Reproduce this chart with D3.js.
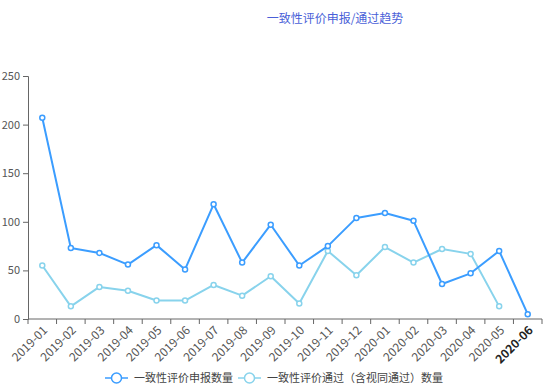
<!DOCTYPE html>
<html>
<head>
<meta charset="utf-8">
<script src="https://cdn.jsdelivr.net/npm/d3@7"></script>
<style>
  html, body { margin: 0; padding: 0; background: #fff; }
  svg { display: block; font-family: "Noto Sans CJK SC", "Noto Sans", sans-serif; }
</style>
</head>
<body>
<svg id="chart" width="553" height="385"></svg>
<script>
// Monthly consistency-evaluation figures
const months = ["2019-01","2019-02","2019-03","2019-04","2019-05","2019-06","2019-07","2019-08","2019-09","2019-10","2019-11","2019-12","2020-01","2020-02","2020-03","2020-04","2020-05","2020-06"];
const applied = [207, 73, 68, 56, 76, 51, 118, 58, 97, 55, 75, 104, 109, 101, 36, 47, 70, 5];
const approved = [55, 13, 33, 29, 19, 19, 35, 24, 44, 16, 70, 45, 74, 58, 72, 67, 13, null];
const yTicks = [0, 50, 100, 150, 200, 250];
const titleText = "一致性评价申报/通过趋势";
const seriesNames = ["一致性评价申报数量", "一致性评价通过（含视同通过）数量"];
const colors = ["#3b9dff", "#88d3ec"];

const svg = d3.select("#chart");
const margin = { left: 28, right: 11, top: 76, bottom: 66 };
const W = 553, H = 385;

const x = d3.scaleBand().domain(months).range([margin.left, W - margin.right]);
const y = d3.scaleLinear().domain([0, 250]).range([H - margin.bottom, margin.top]);

// title
svg.append("text")
  .attr("x", 335).attr("y", 23)
  .attr("text-anchor", "middle")
  .attr("font-size", 12)
  .attr("fill", "#4a5fd8")
  .text(titleText);

// y axis
const yAxis = svg.append("g")
  .attr("transform", `translate(${margin.left},0)`)
  .call(d3.axisLeft(y).tickValues(yTicks).tickSize(5).tickPadding(3));
yAxis.select(".domain").attr("stroke", "#666");
yAxis.selectAll(".tick line").attr("stroke", "#666");
yAxis.selectAll(".tick text").attr("fill", "#555").attr("font-size", 11)
  .attr("font-family", "'Noto Sans CJK SC', sans-serif");

// x axis with ticks on band boundaries
const xAxisG = svg.append("g").attr("transform", `translate(0,${y(0)})`);
xAxisG.append("line")
  .attr("x1", x.range()[0]).attr("x2", x.range()[1])
  .attr("stroke", "#666");
xAxisG.selectAll("line.tk")
  .data(months.concat(["end"]))
  .join("line")
  .attr("class", "tk")
  .attr("x1", (d, i) => x.range()[0] + i * x.step())
  .attr("x2", (d, i) => x.range()[0] + i * x.step())
  .attr("y1", 0).attr("y2", 5)
  .attr("stroke", "#666");
xAxisG.selectAll("text")
  .data(months)
  .join("text")
  .attr("transform", d => `translate(${x(d) + x.bandwidth() / 2 + 3},${9}) rotate(-45)`)
  .attr("text-anchor", "end")
  .attr("dy", "0.35em")
  .attr("font-size", 12)
  .attr("fill", (d, i) => i === months.length - 1 ? "#222" : "#555")
  .attr("font-weight", (d, i) => i === months.length - 1 ? "bold" : "normal")
  .text(d => d);

const cx = d => x(d) + x.bandwidth() / 2;

function drawSeries(values, color) {
  const pts = months.map((m, i) => ({ m, v: values[i] })).filter(p => p.v !== null);
  const line = d3.line().x(p => cx(p.m)).y(p => y(p.v));
  svg.append("path")
    .datum(pts)
    .attr("d", line)
    .attr("fill", "none")
    .attr("stroke", color)
    .attr("stroke-width", 2)
    .attr("stroke-linejoin", "round");
  svg.append("g").selectAll("circle")
    .data(pts)
    .join("circle")
    .attr("cx", p => cx(p.m))
    .attr("cy", p => y(p.v))
    .attr("r", 2.5)
    .attr("fill", "#fff")
    .attr("stroke", color)
    .attr("stroke-width", 1.5);
}
drawSeries(approved, colors[1]);
drawSeries(applied, colors[0]);

// legend
const legendItems = [
  { name: seriesNames[0], color: colors[0], x: 105 },
  { name: seriesNames[1], color: colors[1], x: 238 }
];
const lg = svg.append("g").attr("transform", "translate(0,378)");
legendItems.forEach(it => {
  const g = lg.append("g").attr("transform", `translate(${it.x},0)`);
  g.append("line").attr("x1", 0).attr("x2", 23).attr("stroke", it.color).attr("stroke-width", 1.5);
  g.append("circle").attr("cx", 11.5).attr("cy", 0).attr("r", 5)
    .attr("fill", "#fff").attr("stroke", it.color).attr("stroke-width", 1.5);
  g.append("text").attr("x", 29).attr("y", 0).attr("dy", "0.35em")
    .attr("font-size", 11).attr("fill", "#444").text(it.name);
});
</script>
</body>
</html>
